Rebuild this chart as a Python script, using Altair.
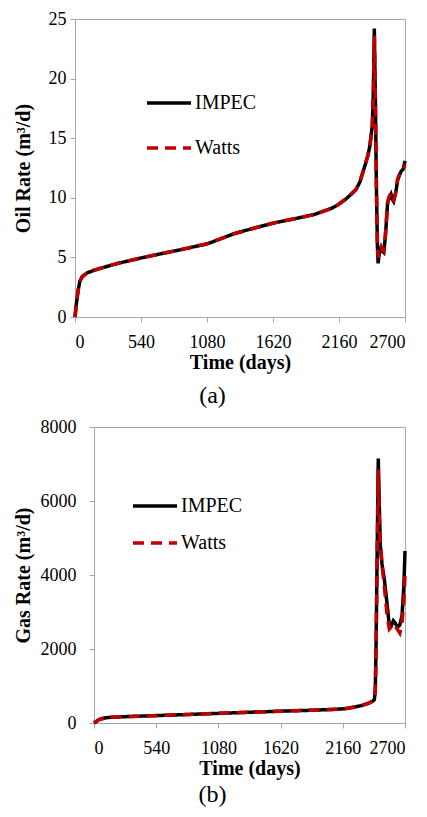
import altair as alt
import pandas as pd

SERIES = ["IMPEC", "Watts"]
X_TICKS = [0, 540, 1080, 1620, 2160, 2700]

# ---- (a) oil rate ----
oil_days = [0, 10, 25, 40, 60, 100, 150, 213, 350, 540, 700, 867, 1086, 1304, 1480,
            1631, 1800, 1958, 2095, 2149, 2217, 2260, 2299, 2330, 2354, 2375, 2395,
            2410, 2422, 2432, 2440, 2446, 2449, 2458, 2466, 2474, 2480, 2490, 2504,
            2515, 2526, 2540, 2558, 2570, 2585, 2595, 2607, 2625, 2640, 2655, 2667,
            2685, 2700]
oil_impec = [0, 1.0, 2.2, 3.0, 3.4, 3.7, 3.9, 4.1, 4.5, 4.95, 5.3, 5.65, 6.15, 7.0, 7.5,
             7.9, 8.25, 8.6, 9.1, 9.4, 9.9, 10.3, 10.7, 11.3, 12.1, 12.8, 13.5,
             14.2, 15.2, 16.0, 18.5, 22.0, 24.2, 18.0, 11.0, 6.0, 4.5, 5.4, 5.8,
             5.5, 5.4, 6.8, 9.6, 10.0, 10.3, 9.9, 9.7, 10.5, 11.5, 11.9, 12.2,
             12.4, 13.1]
oil_watts = [0, 1.0, 2.2, 3.0, 3.4, 3.7, 3.9, 4.1, 4.5, 4.95, 5.3, 5.65, 6.15, 7.0, 7.5,
             7.9, 8.25, 8.6, 9.1, 9.4, 9.9, 10.3, 10.7, 11.3, 12.1, 12.8, 13.5,
             14.2, 15.0, 15.8, 18.0, 21.5, 23.6, 18.0, 11.2, 6.4, 5.0, 5.6, 5.9,
             5.6, 5.5, 7.0, 9.6, 10.1, 10.4, 9.9, 9.8, 10.5, 11.6, 12.0, 12.2,
             12.3, 12.8]

# ---- (b) gas rate ----
gas_days = [0, 20, 40, 61, 100, 148, 300, 547, 900, 1080, 1350, 1620, 1900, 2144, 2202,
            2260, 2318, 2380, 2420, 2434, 2442, 2448, 2458, 2468, 2476, 2486, 2500,
            2520, 2545, 2564, 2580, 2599, 2615, 2636, 2655, 2674, 2690, 2700]
gas_impec = [0, 40, 85, 110, 140, 155, 175, 200, 240, 260, 290, 320, 345, 378, 397,
             430, 468, 530, 590, 630, 900, 1918, 4500, 7150, 6000, 4793, 4300,
             3892, 3200, 2631, 2620, 2766, 2700, 2586, 2650, 2901, 3700, 4650]
gas_watts = [0, 40, 85, 110, 140, 155, 175, 200, 240, 260, 290, 320, 345, 378, 397,
             430, 468, 530, 590, 630, 850, 1800, 4300, 6850, 5600, 4900, 4300,
             3700, 2900, 2540, 2600, 2680, 2620, 2520, 2430, 2700, 3300, 4000]


def frame(days, impec, watts):
    rows = [{"day": d, "rate": v, "series": "IMPEC"} for d, v in zip(days, impec)]
    rows += [{"day": d, "rate": v, "series": "Watts"} for d, v in zip(days, watts)]
    return pd.DataFrame(rows)


FONT = "Liberation Serif"
GRAY = "#a6a6a6"


def panel(df, ymax, ystep, ytitle, label, w, h, shift, title_x, ylab_pad,
          leg_x, leg_y, row_pad, label_offset):
    legend = alt.Legend(
        title=None, orient="none", legendX=leg_x, legendY=leg_y, padding=0,
        symbolType="stroke", symbolSize=44 * 44, symbolStrokeWidth=3.5,
        labelFont=FONT, labelFontSize=20, labelColor="#000", labelOffset=2,
        rowPadding=row_pad,
    )
    xscale = alt.Scale(domain=[0, 2700], nice=False, range=[shift, w])
    yscale = alt.Scale(domain=[0, ymax], nice=False)
    lines = alt.Chart(df).mark_line(strokeWidth=3.5).encode(
        x=alt.X("day:Q", scale=xscale,
                axis=alt.Axis(values=X_TICKS, format="d", title="Time (days)", labelPadding=11,
                              titleY=45, titleBaseline="middle")),
        y=alt.Y("rate:Q", scale=yscale,
                axis=alt.Axis(values=list(range(0, ymax + 1, ystep)), format="d", title=ytitle,
                              offset=-shift, labelPadding=ylab_pad, titleX=title_x,
                              titleY=h / 2, titleAngle=270, titleAlign="center",
                              titleBaseline="middle")),
        color=alt.Color("series:N", scale=alt.Scale(domain=SERIES, range=["#000000", "#c00000"]),
                        legend=legend),
        strokeDash=alt.StrokeDash("series:N", scale=alt.Scale(domain=SERIES, range=[[1, 0], [11, 7]]),
                                  legend=legend),
        order=alt.Order("series:N"),
    )
    # top and right frame lines of the plot box, drawn as bare axis domains
    frame_axes = alt.Chart(df).mark_line(strokeOpacity=0).encode(
        x=alt.X("day:Q", scale=xscale,
                axis=alt.Axis(orient="top", labels=False, ticks=False, title=None)),
        y=alt.Y("rate:Q", scale=yscale,
                axis=alt.Axis(orient="right", labels=False, ticks=False, title=None)),
    )
    return alt.layer(lines, frame_axes).resolve_axis(x="independent", y="independent").properties(
        width=w, height=h,
        view=alt.ViewBackground(stroke="transparent"),
        title=alt.TitleParams(label, orient="bottom", font=FONT, fontSize=24,
                              fontWeight="normal", color="#000", frame="bounds",
                              anchor="middle", offset=label_offset),
    )


# both panels share the same group origin; panel (b) plot box starts 19 px further right
a = panel(frame(oil_days, oil_impec, oil_watts), 25, 5, "Oil Rate (m³/d)", "(a)",
          330, 298, 0, -52, 4, 70, 60, 11, 12)
b = panel(frame(gas_days, gas_impec, gas_watts), 8000, 2000, "Gas Rate (m³/d)", "(b)",
          330, 296, 19, -71, 13, 56, 55, 3, 5)

chart = alt.vconcat(a, b, spacing=8).resolve_scale(
    color="independent", strokeDash="independent"
).resolve_legend(
    color="independent", strokeDash="independent"
).properties(
    padding={"left": 4, "top": 1, "right": 0, "bottom": 0}
).configure_axis(
    labelFont=FONT, labelFontSize=18, labelColor="#000",
    titleFont=FONT, titleFontSize=20, titleFontWeight="bold", titleColor="#000",
    domainColor=GRAY, tickColor=GRAY, tickSize=5, grid=False,
)

chart.save("out.html", embed_options={"renderer": "svg", "actions": False})
